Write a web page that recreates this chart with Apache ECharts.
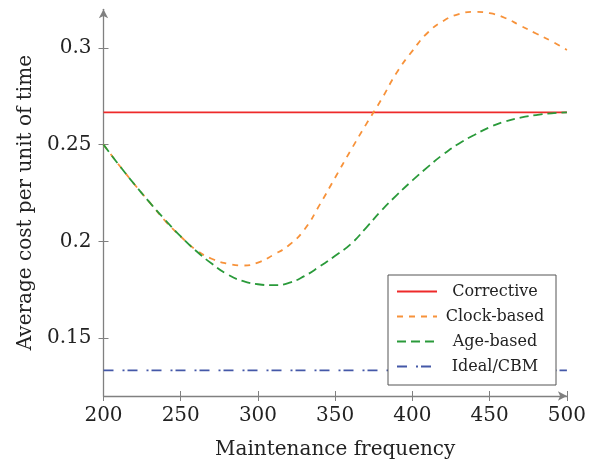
<!DOCTYPE html>
<html>
<head>
<meta charset="utf-8">
<script src="https://cdn.jsdelivr.net/npm/echarts@6/dist/echarts.min.js"></script>
<style>html,body{margin:0;padding:0;background:#fff}#c{width:589px;height:465px}</style>
</head>
<body>
<div id="c"></div>
<script>
const xs = [200,210,220,230,240,250,260,270,280,290,300,310,320,330,340,350,360,370,380,390,400,410,420,430,440,450,460,470,480,490,500];
const corrective = 0.2667;
const ideal = 0.1333;
const clockBased = [0.250,0.2395,0.2295,0.2200,0.2105,0.2025,0.1955,0.1910,0.1885,0.1875,0.1890,0.1930,0.1980,0.2060,0.2190,0.2330,0.2470,0.2605,0.2735,0.2875,0.2985,0.3080,0.3140,0.3175,0.3187,0.3180,0.3155,0.3115,0.3075,0.3035,0.2990];
const ageBased = [0.250,0.2395,0.2295,0.2200,0.2110,0.2025,0.1950,0.1885,0.1830,0.1795,0.1778,0.1773,0.1785,0.1820,0.1870,0.1925,0.1985,0.2070,0.2160,0.2240,0.2315,0.2385,0.2450,0.2505,0.2550,0.2590,0.2620,0.2640,0.2653,0.2662,0.2667];
const yTicks = [0.15,0.2,0.25,0.3];
const seriesNames = ['Corrective','Clock-based','Age-based','Ideal/CBM'];

const font = 'DejaVu Serif';
const pair = (arr) => xs.map((x,i)=>[x,arr[i]]);
const flat = (v) => [[200,v],[500,v]];

const chart = echarts.init(document.getElementById('c'));
chart.setOption({
  animation:false,
  grid:{left:103.5,right:19,top:9.3,bottom:68.3},
  xAxis:[{
    type:'value',min:200,max:500,interval:50,position:'bottom',
    name:'Maintenance frequency',nameLocation:'middle',nameGap:44,
    nameTextStyle:{fontFamily:font,fontSize:20,color:'#222'},
    axisLine:{show:true,symbol:['none','arrow'],symbolSize:[7,9],lineStyle:{color:'#808080',width:1.3}},
    axisTick:{show:true,inside:false,length:5,lineStyle:{color:'#808080'}},
    axisLabel:{fontFamily:font,fontSize:20,color:'#222',margin:10},
    splitLine:{show:false}
  },{
    type:'value',min:200,max:500,interval:50,position:'bottom',
    axisLine:{show:false},axisLabel:{show:false},
    axisTick:{show:true,inside:true,length:5,lineStyle:{color:'#808080'}},
    splitLine:{show:false}
  }],
  yAxis:[{
    type:'value',min:0.12,max:0.32,position:'left',
    name:'Average cost per unit of time',nameLocation:'middle',nameGap:65,
    nameTextStyle:{fontFamily:font,fontSize:20,color:'#222'},
    axisLine:{show:true,symbol:['none','arrow'],symbolSize:[7,9],lineStyle:{color:'#808080',width:1.3}},
    axisTick:{show:true,inside:false,length:5,customValues:yTicks,lineStyle:{color:'#808080'}},
    axisLabel:{fontFamily:font,fontSize:20,color:'#222',margin:12,customValues:yTicks},
    splitLine:{show:false}
  },{
    type:'value',min:0.12,max:0.32,position:'left',
    axisLine:{show:false},axisLabel:{show:false},
    axisTick:{show:true,inside:true,length:5,customValues:yTicks,lineStyle:{color:'#808080'}},
    splitLine:{show:false}
  }],
  legend:{
    orient:'vertical',left:388,top:275,
    padding:[4,8,6,8],itemGap:0,itemWidth:40,itemHeight:2,
    borderColor:'#555',borderWidth:1,backgroundColor:'#fff',
    itemStyle:{opacity:0},
    data:seriesNames,
    formatter:(n)=>'{t|'+n+'}',
    textStyle:{fontFamily:font,fontSize:16,color:'#222',rich:{t:{width:106,height:25,lineHeight:25,align:'center',fontFamily:font,fontSize:16}}}
  },
  series:[
    {name:seriesNames[0],type:'line',data:flat(corrective),symbol:'none',lineStyle:{color:'#ee2a2a',width:1.8},itemStyle:{color:'#ee2a2a'}},
    {name:seriesNames[1],type:'line',data:pair(clockBased),smooth:true,symbol:'none',lineStyle:{color:'#f7923a',width:1.8,type:[6,6]},itemStyle:{color:'#f7923a'}},
    {name:seriesNames[2],type:'line',data:pair(ageBased),smooth:true,symbol:'none',lineStyle:{color:'#2a9a3a',width:1.8,type:[9,5]},itemStyle:{color:'#2a9a3a'}},
    {name:seriesNames[3],type:'line',data:flat(ideal),symbol:'none',lineStyle:{color:'#4458a8',width:1.8,type:[10,9,2,3]},itemStyle:{color:'#4458a8'}}
  ]
});
</script>
</body>
</html>
